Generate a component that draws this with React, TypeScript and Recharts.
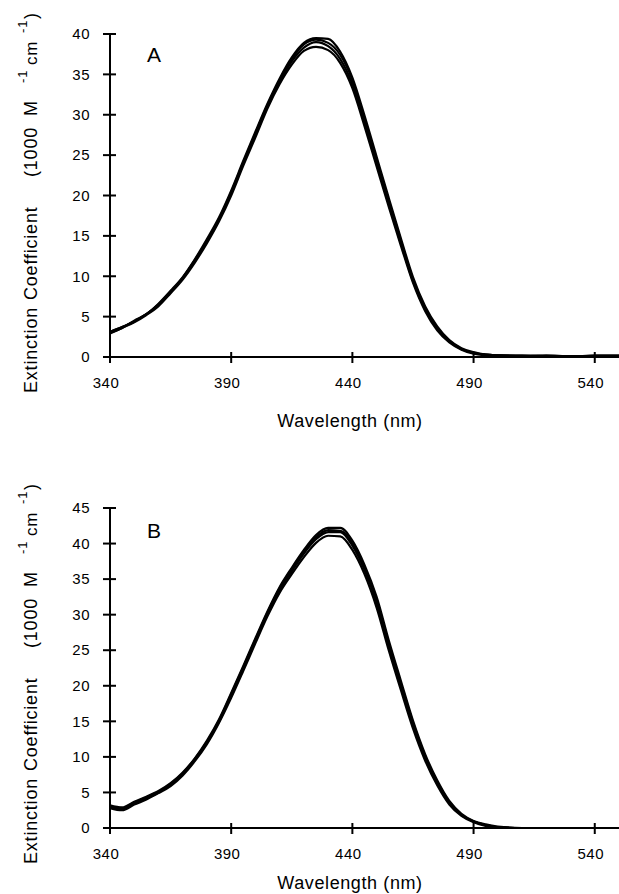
import { LineChart, Line, XAxis, YAxis } from "recharts";

const wavelengths = [
  340, 345, 350, 355, 360, 365, 370, 375, 380, 385, 390, 395, 400, 405, 410,
  415, 420, 425, 430, 435, 440, 445, 450, 455, 460, 465, 470, 475, 480, 485,
  490, 495, 500, 510, 520, 530, 540, 550,
];

// panel A: four overlaid spectra
const a1 = [
  3.1, 3.7, 4.4, 5.3, 6.5, 8.0, 9.8, 11.9, 14.3, 17.0, 20.3, 24.0, 27.5, 31.1,
  34.1, 36.6, 38.3, 39.0, 38.5, 36.9, 33.8, 29.1, 24.0, 19.0, 14.1, 9.4, 5.9,
  3.5, 1.9, 1.0, 0.5, 0.3, 0.2, 0.1, 0.1, 0.1, 0.1, 0.1,
];
const a2 = [
  3.0, 3.6, 4.5, 5.3, 6.6, 8.2, 9.9, 12.1, 14.6, 17.3, 20.6, 24.3, 27.9, 31.4,
  34.5, 37.1, 38.9, 39.5, 39.4, 37.8, 34.6, 29.9, 24.8, 19.7, 14.7, 9.9, 6.3,
  3.8, 2.1, 1.1, 0.6, 0.3, 0.2, 0.2, 0.1, 0.0, 0.2, 0.2,
];
const a3 = [
  2.9, 3.6, 4.3, 5.2, 6.3, 7.9, 9.6, 11.7, 14.1, 16.8, 20.0, 23.7, 27.2, 30.8,
  33.8, 36.2, 37.9, 38.4, 38.0, 36.4, 33.3, 28.6, 23.6, 18.6, 13.8, 9.2, 5.7,
  3.3, 1.8, 0.9, 0.4, 0.2, 0.1, 0.1, 0.1, 0.1, 0.0, 0.1,
];
const a4 = [
  3.1, 3.7, 4.4, 5.3, 6.5, 8.1, 9.8, 12.0, 14.4, 17.1, 20.4, 24.1, 27.7, 31.2,
  34.3, 36.9, 38.7, 39.3, 38.9, 37.4, 34.3, 29.5, 24.4, 19.3, 14.4, 9.6, 6.1,
  3.6, 2.0, 1.0, 0.5, 0.3, 0.2, 0.1, 0.2, 0.1, 0.1, 0.1,
];

// panel B
const b1 = [
  3.0, 2.7, 3.5, 4.2, 5.0, 6.1, 7.6, 9.6, 12.0, 15.0, 18.6, 22.4, 26.3, 30.1,
  33.5, 36.1, 38.6, 40.6, 41.6, 41.6, 39.7, 36.3, 31.7, 25.6, 20.0, 14.5, 9.9,
  6.3, 3.5, 1.8, 0.9, 0.4, 0.1, 0, 0, 0, 0, 0,
];
const b2 = [
  3.2, 2.9, 3.7, 4.4, 5.2, 6.3, 7.8, 9.8, 12.3, 15.3, 19.0, 22.8, 26.7, 30.5,
  33.9, 36.6, 39.1, 41.2, 42.2, 42.2, 40.4, 37.0, 32.5, 26.4, 20.7, 15.1, 10.4,
  6.7, 3.8, 2.0, 1.0, 0.5, 0.2, 0, 0, 0, 0, 0,
];
const b3 = [
  2.8, 2.5, 3.3, 4.0, 4.9, 5.9, 7.4, 9.4, 11.8, 14.8, 18.3, 22.1, 26.0, 29.8,
  33.1, 35.7, 38.1, 40.1, 41.1, 41.0, 39.1, 35.7, 31.0, 25.0, 19.4, 14.0, 9.5,
  6.0, 3.3, 1.7, 0.8, 0.3, 0.1, 0, 0, 0, 0, 0,
];
const b4 = [
  3.0, 2.8, 3.6, 4.3, 5.1, 6.2, 7.7, 9.7, 12.1, 15.1, 18.8, 22.6, 26.5, 30.3,
  33.7, 36.4, 38.9, 40.9, 41.9, 41.8, 40.0, 36.6, 32.1, 26.0, 20.3, 14.8, 10.1,
  6.5, 3.6, 1.9, 0.9, 0.4, 0.1, 0, 0, 0, 0, 0,
];

const xTicks = [340, 390, 440, 490, 540];
const yTicksA = [0, 5, 10, 15, 20, 25, 30, 35, 40];
const yTicksB = [0, 5, 10, 15, 20, 25, 30, 35, 40, 45];

const FONT = '"Liberation Sans", Arial, Helvetica, sans-serif';

function XTick({ x, y, payload }: any) {
  const axisY = y - 8;
  return (
    <g>
      <line x1={x} x2={x} y1={axisY - 5} y2={axisY + 6} stroke="#000" strokeWidth={2} />
      <text
        x={x - 4}
        y={axisY + 26}
        dy="0.35em"
        textAnchor="middle"
        fontSize={15}
        fontFamily={FONT}
        fill="#000"
        letterSpacing={0.5}
      >
        {payload.value}
      </text>
    </g>
  );
}

function YTick({ x, y, payload }: any) {
  const axisX = x + 8;
  return (
    <g>
      <line x1={axisX - 7} x2={axisX + 6} y1={y} y2={y} stroke="#000" strokeWidth={2} />
      <text
        x={axisX - 20}
        y={y}
        dy="0.35em"
        textAnchor="end"
        fontSize={15}
        fontFamily={FONT}
        fill="#000"
        letterSpacing={0.5}
      >
        {payload.value}
      </text>
    </g>
  );
}

function yTitle(letter: string, letterDy: number) {
  return (props: any) => {
    const vb = props.viewBox;
    const plotLeft = vb.x + vb.width;
    const startY = vb.y + vb.height + 36;
    return (
      <g fontFamily={FONT} fill="#000">
        <g transform={`translate(37, ${startY}) rotate(-90)`}>
          <text fontSize={18} letterSpacing={0.8}>
            <tspan x={0} y={0}>Extinction</tspan>
            <tspan x={93} y={0}>Coefficient</tspan>
            <tspan x={216} y={0}>(1000</tspan>
            <tspan x={277} y={0}>M</tspan>
            <tspan x={310} y={-10} fontSize={13}>-1</tspan>
            <tspan x={328} y={0} fontSize={17}>cm</tspan>
            <tspan x={360} y={-10} fontSize={13}>-1</tspan>
            <tspan x={374} y={0}>)</tspan>
          </text>
        </g>
        <text x={plotLeft + 37} y={vb.y + letterDy} fontSize={21}>
          {letter}
        </text>
      </g>
    );
  };
}

function xTitle(dy: number) {
  return (props: any) => {
    const vb = props.viewBox;
    return (
      <text
        x={vb.x + 240}
        y={vb.y + dy}
        textAnchor="middle"
        fontSize={18}
        fontFamily={FONT}
        fill="#000"
        letterSpacing={0.6}
      >
        Wavelength (nm)
      </text>
    );
  };
}

type PanelProps = {
  height: number;
  top: number;
  plotH: number;
  yMax: number;
  yTicks: number[];
  series: number[][];
  letter: string;
  letterDy: number;
  xTitleDy: number;
};

function Panel({ height, top, plotH, yMax, yTicks, series, letter, letterDy, xTitleDy }: PanelProps) {
  const data = wavelengths.map((w, i) => {
    const row: any = { w };
    series.forEach((s, k) => {
      row["s" + k] = s[i];
    });
    return row;
  });
  return (
    <LineChart
      width={619}
      height={height}
      data={data}
      margin={{ top, right: 0, bottom: 0, left: 0 }}
    >
      <XAxis
        dataKey="w"
        type="number"
        domain={[340, 550]}
        ticks={xTicks}
        height={height - top - plotH}
        axisLine={{ stroke: "#000", strokeWidth: 2 }}
        tickLine={{ stroke: "none" }}
        tickSize={6}
        tickMargin={2}
        tick={<XTick />}
        interval={0}
        label={{ content: xTitle(xTitleDy) }}
      />
      <YAxis
        type="number"
        domain={[0, yMax]}
        ticks={yTicks}
        width={110}
        axisLine={{ stroke: "#000", strokeWidth: 2 }}
        tickLine={{ stroke: "none" }}
        tickSize={6}
        tickMargin={2}
        tick={<YTick />}
        interval={0}
        label={{ content: yTitle(letter, letterDy) }}
      />
      {series.map((_, k) => (
        <Line
          key={k}
          type="monotone"
          dataKey={"s" + k}
          stroke="#000"
          strokeWidth={2.2}
          dot={false}
          isAnimationActive={false}
        />
      ))}
    </LineChart>
  );
}

export default function App() {
  return (
    <div
      style={{
        position: "absolute",
        left: 0,
        top: 0,
        width: 619,
        height: 894,
        background: "#fff",
        overflow: "hidden",
      }}
    >
      <Panel
        height={440}
        top={34}
        plotH={323}
        yMax={40}
        yTicks={yTicksA}
        series={[a1, a2, a3, a4]}
        letter="A"
        letterDy={28}
        xTitleDy={70}
      />
      <Panel
        height={454}
        top={68}
        plotH={320}
        yMax={45}
        yTicks={yTicksB}
        series={[b1, b2, b3, b4]}
        letter="B"
        letterDy={30}
        xTitleDy={61}
      />
    </div>
  );
}
